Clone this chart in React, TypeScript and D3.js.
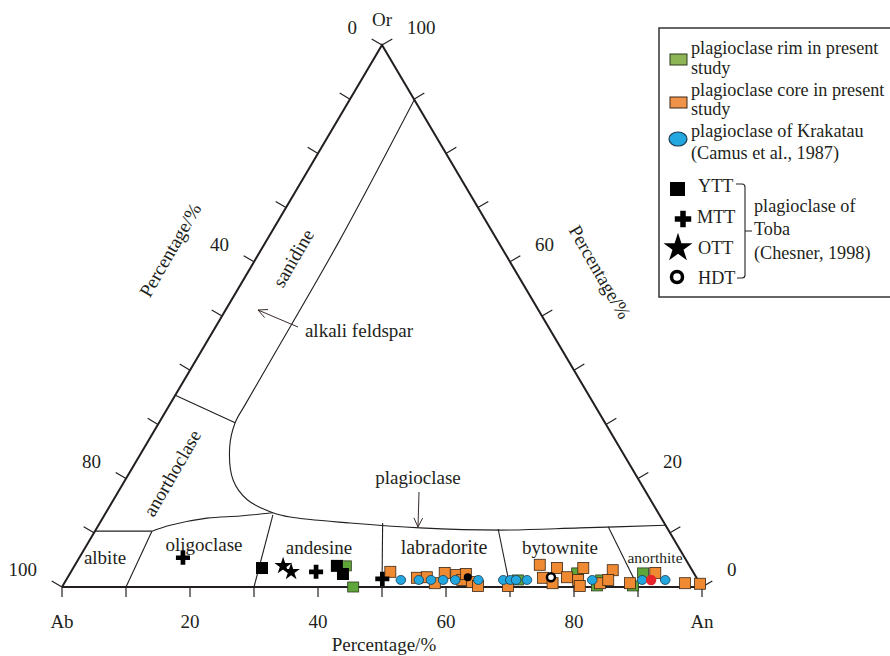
import React from 'react';
import * as d3 from 'd3';

// all points as [An %, Or %]
const rimPoints = [[42.4, 3.9], [45.5, 0], [70.6, 1.3], [79.2, 2.6], [83.5, 0.2], [83.6, 1.3], [89.1, 0.2], [89.5, 2.6]];
const corePoints = [
  [49.9, 2.8], [54.6, 1.7], [56.1, 1.8], [57.9, 0.7], [58.5, 2.6], [60.5, 2.2], [61.9, 1.3], [61.9, 2.4],
  [63.6, 0.9], [64.9, 0.2], [69.6, 0.2], [72.6, 4.1], [74.3, 1.7], [75.6, 3.5], [76.3, 0.7], [78.0, 1.8],
  [80.0, 1.3], [79.7, 3.5], [80.8, 0.2], [83.7, 0.7], [84.5, 3.1], [84.7, 1.3], [88.4, 0.7], [91.4, 2.6],
  [97.0, 0.7], [99.4, 0.6],
];
const krakatauPoints = [
  [52.3, 1.3], [55.1, 1.3], [57.0, 1.3], [58.9, 1.3], [60.8, 1.3], [64.4, 1.3], [68.3, 1.3], [69.4, 1.3],
  [70.3, 1.3], [72.0, 1.3], [82.2, 1.3], [90.0, 1.3], [93.6, 1.3],
];
const yttPoints = [[29.5, 3.5], [41.0, 3.9], [42.7, 2.4]];
const mttPoints = [[16.2, 5.4], [38.3, 2.8], [49.3, 1.5]];
const ottPoints = [[32.6, 3.9], [34.4, 2.8]];
const hdtPoints = [[75.5, 1.8]];
const blackDots = [[62.5, 1.8]];
const redPoints = [[91.4, 1.3]];

// field boundaries, [An %, Or %]
const alkaliBoundary = [
  [10.1, 89.9], [11.4, 64.0], [11.7, 42.3], [11.8, 33.6], [11.9, 30.3], [13.3, 25.8], [16.9, 19.7],
  [20.9, 16.1], [26.1, 13.7], [29.2, 12.9], [39.1, 11.8], [50.5, 10.9], [63.2, 10.5], [75.5, 10.9], [88.6, 11.4],
];
const oligoclaseTop = [[8.9, 10.3], [11.2, 11.4], [16.3, 12.7], [21.3, 13.1], [26.1, 13.7]];
const straightLines = [
  [[0, 35.4], [11.9, 30.3]],
  [[0, 10.3], [8.9, 10.3]],
  [[10, 0], [8.9, 10.3]],
  [[30, 0], [26.3, 13.3]],
  [[50, 0], [44.2, 11.8]],
  [[70, 0], [62.8, 10.7]],
  [[90, 0], [79.8, 11.1]],
];

const tickValues = d3.range(0, 101, 10);
const abLabels = [100, 80, 40, 0];
const orLabels = [0, 20, 60, 100];
const anLabels = [0, 20, 40, 60, 80, 100];
const anNames: Record<number, string> = { 0: 'Ab', 100: 'An' };

const AB = [62, 587];
const AN = [702, 587];
const OR = [382, 45];

const anX = d3.scaleLinear().domain([0, 100]).range([0, AN[0] - AB[0]]);
const orX = d3.scaleLinear().domain([0, 100]).range([0, OR[0] - AB[0]]);
const orY = d3.scaleLinear().domain([0, 100]).range([AB[1], OR[1]]);

const proj = (p: number[]): [number, number] => [AB[0] + anX(p[0]) + orX(p[1]), orY(p[1])];

const FONT = '"Liberation Serif", "Times New Roman", serif';
const INK = '#231f20';

const smooth = d3.line().curve(d3.curveCatmullRom.alpha(0.5));
const straight = d3.line();

const star = d3.symbol().type(d3.symbolStar);
const cross = d3.symbol().type(d3.symbolCross);

function Arrow({ x1, y1, x2, y2 }: { x1: number; y1: number; x2: number; y2: number }) {
  const a = Math.atan2(y2 - y1, x2 - x1);
  const h = 10;
  const p1 = [x2 - h * Math.cos(a - 0.45), y2 - h * Math.sin(a - 0.45)];
  const p2 = [x2 - h * Math.cos(a + 0.45), y2 - h * Math.sin(a + 0.45)];
  return (
    <g stroke="#3b2a2a" strokeWidth={1} fill="none">
      <line x1={x1} y1={y1} x2={x2} y2={y2} />
      <polyline points={`${p1[0]},${p1[1]} ${x2},${y2} ${p2[0]},${p2[1]}`} />
    </g>
  );
}

export default function App() {
  const nL = [-0.861, -0.508];
  const nR = [0.861, -0.508];
  const tk = 12;

  return (
    <svg width={890} height={656} style={{ position: 'absolute', left: 0, top: 0, background: '#fff' }}
      fontFamily={FONT}>
      {/* field boundaries */}
      <g fill="none" stroke={INK} strokeWidth={1.1}>
        <path d={smooth(alkaliBoundary.map(proj)) || ''} />
        <path d={smooth(oligoclaseTop.map(proj)) || ''} />
        {straightLines.map((l, i) => <path key={i} d={straight(l.map(proj)) || ''} />)}
      </g>

      {/* triangle */}
      <path d={straight([AB, OR, AN, AB] as [number, number][]) || ''} fill="none" stroke={INK} strokeWidth={2} strokeLinejoin="miter" />

      {/* ticks */}
      <g stroke={INK} strokeWidth={1.2}>
        {tickValues.map(v => {
          const [x, y] = proj([0, 100 - v]);
          return <line key={'l' + v} x1={x} y1={y} x2={x + nL[0] * tk} y2={y + nL[1] * tk} />;
        })}
        {tickValues.map(v => {
          const [x, y] = proj([100 - v, v]);
          return <line key={'r' + v} x1={x} y1={y} x2={x + nR[0] * tk} y2={y + nR[1] * tk} />;
        })}
        {tickValues.map(v => {
          const [x, y] = proj([v, 0]);
          return <line key={'b' + v} x1={x} y1={y} x2={x} y2={y + 10} />;
        })}
      </g>

      {/* tick labels */}
      <g fontSize={19} fill={INK}>
        {abLabels.map(v => {
          const [x, y] = proj([0, 100 - v]);
          return <text key={'la' + v} x={x - 25} y={y - 11} textAnchor="end">{v}</text>;
        })}
        {orLabels.map(v => {
          const [x, y] = proj([100 - v, v]);
          return <text key={'lo' + v} x={x + 25} y={y - 11} textAnchor="start">{v}</text>;
        })}
        {anLabels.map(v => {
          const [x] = proj([v, 0]);
          return <text key={'ln' + v} x={x} y={628} textAnchor="middle">{anNames[v] ?? v}</text>;
        })}
        <text x={OR[0]} y={26} textAnchor="middle">Or</text>
        <text x={384} y={651} textAnchor="middle">Percentage/%</text>
        <text transform="translate(170,250) rotate(-60)" textAnchor="middle" dy="0.35em">Percentage/%</text>
        <text transform="translate(600,272) rotate(60)" textAnchor="middle" dy="0.35em">Percentage/%</text>
      </g>

      {/* field names */}
      <g fontSize={19} fill={INK} textAnchor="middle">
        <text transform="translate(293,258) rotate(-60)" dy="0.35em">sanidine</text>
        <text transform="translate(172,473) rotate(-60)" dy="0.35em">anorthoclase</text>
        <text x={359} y={337} textAnchor="middle">alkali feldspar</text>
        <text x={418} y={484}>plagioclase</text>
        <text x={105} y={564}>albite</text>
        <text x={204} y={551}>oligoclase</text>
        <text x={319} y={554}>andesine</text>
        <text x={444} y={554} fontSize={20}>labradorite</text>
        <text x={560} y={554}>bytownite</text>
        <text x={655} y={563} fontSize={15.5}>anorthite</text>
      </g>
      <Arrow x1={298} y1={327} x2={258} y2={310} />
      <Arrow x1={419} y1={492} x2={418} y2={527} />

      {/* data */}
      <g stroke="#2d3a1f" strokeWidth={0.8} fill="#5fa63a">
        {rimPoints.map((p, i) => {
          const [x, y] = proj(p);
          return <rect key={i} x={x - 5.5} y={y - 5} width={11} height={10} />;
        })}
      </g>
      <g stroke="#3a2614" strokeWidth={0.8} fill="#ef8a32">
        {corePoints.map((p, i) => {
          const [x, y] = proj(p);
          return <rect key={i} x={x - 5.5} y={y - 5.5} width={11} height={11} />;
        })}
      </g>
      <g stroke="#1b3b52" strokeWidth={0.8} fill="#22a7e0">
        {krakatauPoints.map((p, i) => {
          const [x, y] = proj(p);
          return <ellipse key={i} cx={x} cy={y} rx={4.8} ry={4.5} />;
        })}
      </g>
      <g fill="#000">
        {yttPoints.map((p, i) => {
          const [x, y] = proj(p);
          return <rect key={i} x={x - 6} y={y - 6} width={12} height={12} />;
        })}
        {mttPoints.map((p, i) => {
          const [x, y] = proj(p);
          return <path key={i} transform={`translate(${x},${y})`} d={cross.size(110)() || ''} />;
        })}
        {ottPoints.map((p, i) => {
          const [x, y] = proj(p);
          return <path key={i} transform={`translate(${x},${y})`} d={star.size(95)() || ''} />;
        })}
        {blackDots.map((p, i) => {
          const [x, y] = proj(p);
          return <circle key={i} cx={x} cy={y} r={4} />;
        })}
      </g>
      {hdtPoints.map((p, i) => {
        const [x, y] = proj(p);
        return <circle key={i} cx={x} cy={y} r={4} fill="#fff" stroke="#000" strokeWidth={2.5} />;
      })}
      {redPoints.map((p, i) => {
        const [x, y] = proj(p);
        return <circle key={i} cx={x} cy={y} r={5.2} fill="#e8242b" />;
      })}

      {/* legend */}
      <g fontSize={18.2} fill={INK}>
        <rect x={659} y={28} width={240} height={269} fill="#fff" stroke="#333" strokeWidth={1.5} />
        <rect x={670} y={54} width={17} height={11} fill="#8db455" stroke="#2d3a1f" strokeWidth={1} />
        <text x={691} y={54}>plagioclase rim in present</text>
        <text x={691} y={74}>study</text>
        <rect x={670} y={97} width={17} height={11} fill="#f0934a" stroke="#3a2614" strokeWidth={1} />
        <text x={691} y={96}>plagioclase core in present</text>
        <text x={691} y={115}>study</text>
        <ellipse cx={678} cy={139} rx={9} ry={7} fill="#22a7e0" stroke="#1b3b52" strokeWidth={1.2} />
        <text x={691} y={137}>plagioclase of Krakatau</text>
        <text x={691} y={159}>(Camus et al., 1987)</text>
        <rect x={670} y={182} width={15} height={14} fill="#000" />
        <text x={698} y={192}>YTT</text>
        <path transform="translate(683,219)" d={cross.size(150)() || ''} fill="#000" />
        <text x={697} y={223}>MTT</text>
        <path transform="translate(678,248)" d={star.size(260)() || ''} fill="#000" />
        <text x={698} y={254}>OTT</text>
        <circle cx={677} cy={277} r={5.5} fill="#fff" stroke="#000" strokeWidth={3.5} />
        <text x={698} y={284}>HDT</text>
        <path d="M736,184 H742 Q745,184 745,187 V275 Q745,278 742,278 H737 M745,231 H752" fill="none" stroke={INK} strokeWidth={1.1} />
        <text x={754} y={212}>plagioclase of</text>
        <text x={754} y={235}>Toba</text>
        <text x={754} y={259}>(Chesner, 1998)</text>
      </g>
    </svg>
  );
}
